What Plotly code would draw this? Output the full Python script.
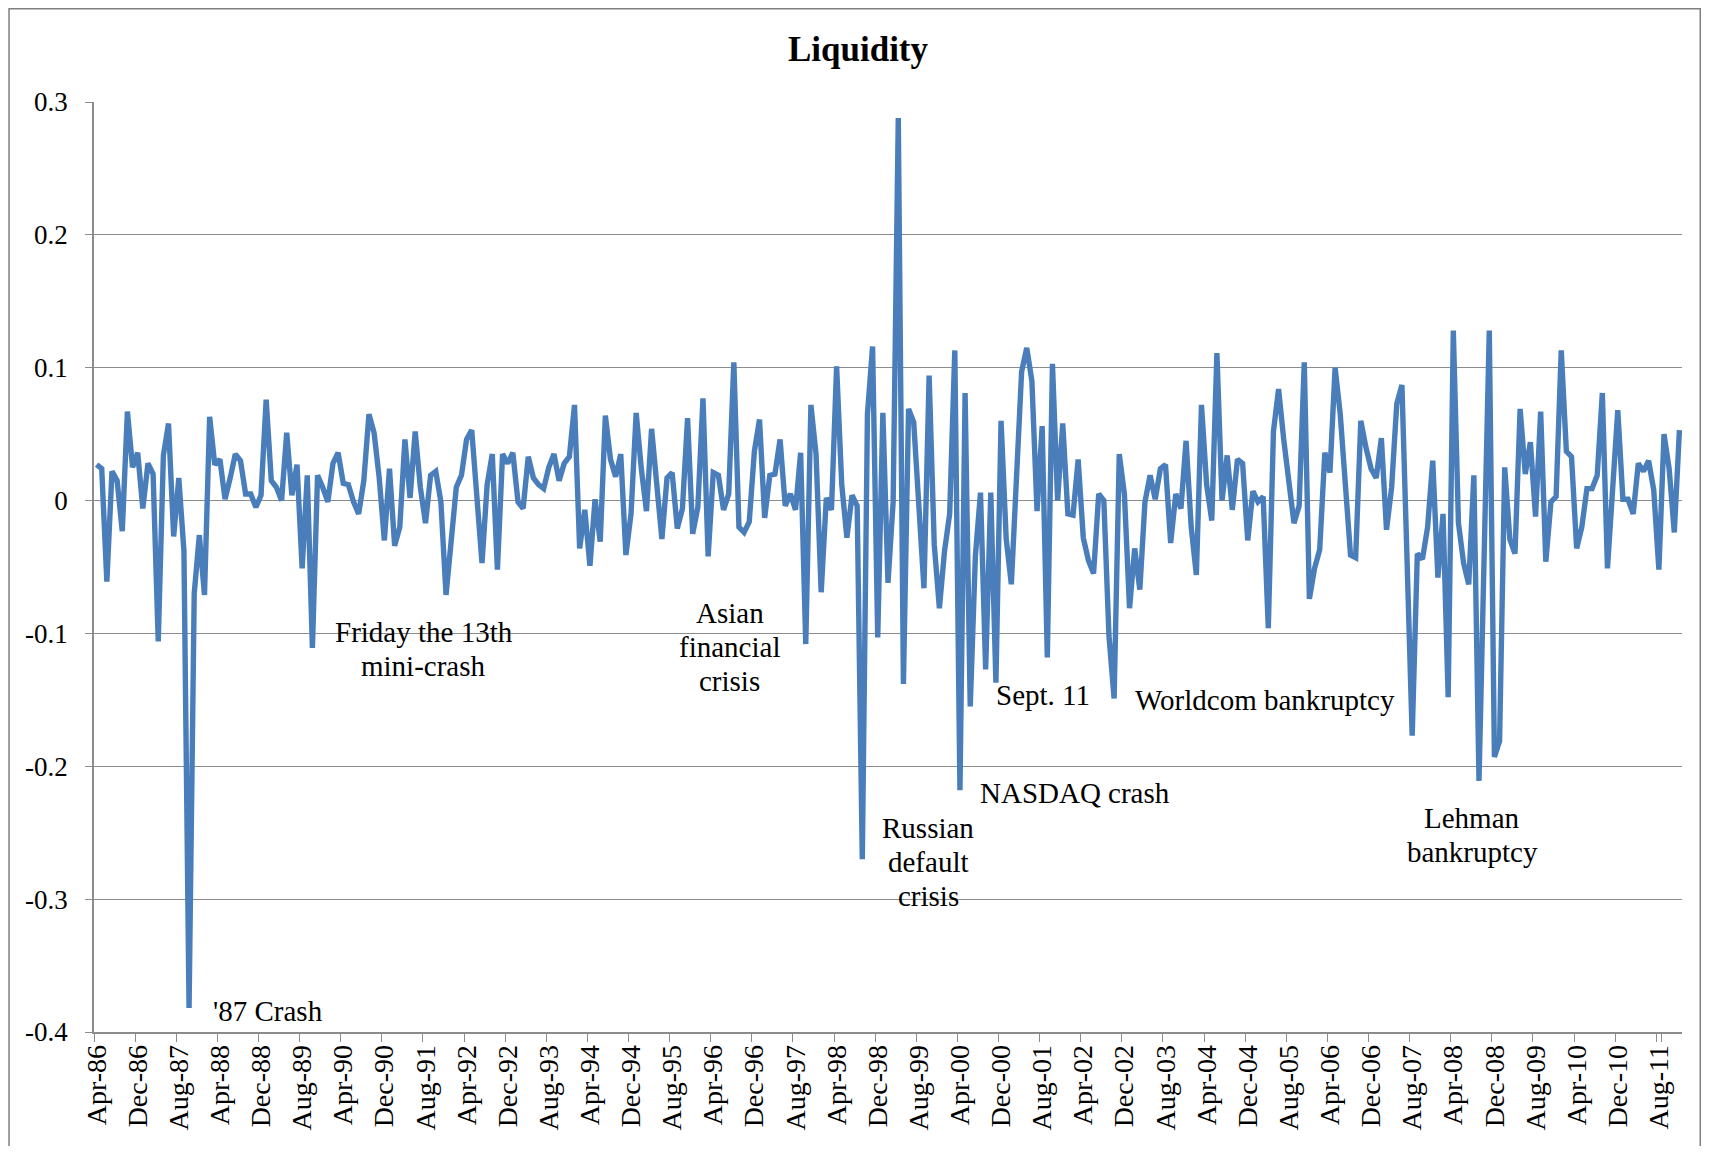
import plotly.graph_objects as go
import pandas as pd

# Monthly categories Apr-86 .. Dec-11
months = list(pd.date_range("1986-04-01", periods=309, freq="MS").strftime("%b-%y"))

liquidity = [
    0.027, 0.024, -0.061, 0.022, 0.015, -0.023, 0.067, 0.025, 0.036, -0.006,
    0.028, 0.020, -0.106, 0.034, 0.058, -0.027, 0.017, -0.038, -0.382, -0.070,
    -0.026, -0.071, 0.063, 0.027, 0.031, 0.001, 0.017, 0.035, 0.030, 0.005,
    0.005, -0.005, 0.004, 0.076, 0.015, 0.010, 0.000, 0.051, 0.004, 0.027,
    -0.051, 0.019, -0.111, 0.019, 0.010, -0.001, 0.028, 0.036, 0.013, 0.012,
    -0.001, -0.010, 0.015, 0.065, 0.051, 0.017, -0.030, 0.024, -0.034, -0.020,
    0.046, 0.002, 0.052, 0.010, -0.017, 0.019, 0.022, -0.001, -0.071, -0.025,
    0.010, 0.019, 0.046, 0.053, 0.000, -0.047, 0.012, 0.035, -0.052, 0.035,
    0.028, 0.036, -0.001, -0.006, 0.033, 0.017, 0.012, 0.009, 0.025, 0.035,
    0.015, 0.028, 0.033, 0.072, -0.036, -0.007, -0.049, 0.001, -0.031, 0.064,
    0.031, 0.018, 0.035, -0.041, -0.010, 0.066, 0.024, -0.008, 0.054, 0.008,
    -0.029, 0.017, 0.021, -0.021, -0.006, 0.062, -0.025, -0.005, 0.077, -0.042,
    0.021, 0.019, -0.007, 0.005, 0.104, -0.020, -0.024, -0.016, 0.037, 0.061,
    -0.013, 0.019, 0.020, 0.046, -0.004, 0.005, -0.007, 0.036, -0.108, 0.072,
    0.035, -0.069, 0.002, -0.007, 0.101, 0.012, -0.028, 0.004, -0.004, -0.270,
    0.065, 0.116, -0.103, 0.066, -0.062, -0.001, 0.288, -0.138, 0.069, 0.059,
    -0.010, -0.066, 0.094, -0.033, -0.081, -0.038, -0.010, 0.113, -0.218, 0.081,
    -0.155, -0.042, 0.006, -0.127, 0.006, -0.137, 0.060, -0.029, -0.063, 0.026,
    0.097, 0.115, 0.090, -0.008, 0.056, -0.118, 0.103, 0.000, 0.058, -0.010,
    -0.011, 0.031, -0.028, -0.045, -0.055, 0.005, 0.000, -0.102, -0.149, 0.035,
    0.005, -0.081, -0.036, -0.067, -0.001, 0.019, 0.001, 0.024, 0.027, -0.032,
    0.005, -0.006, 0.045, -0.020, -0.056, 0.072, 0.012, -0.015, 0.111, 0.000,
    0.034, -0.007, 0.031, 0.028, -0.030, 0.007, -0.001, 0.003, -0.096, 0.052,
    0.084, 0.046, 0.017, -0.017, -0.004, 0.104, -0.074, -0.051, -0.037, 0.036,
    0.021, 0.100, 0.065, 0.017, -0.041, -0.043, 0.060, 0.040, 0.024, 0.017,
    0.047, -0.022, 0.010, 0.073, 0.087, -0.045, -0.177, -0.040, -0.044, -0.020,
    0.030, -0.058, -0.010, -0.148, 0.128, -0.017, -0.047, -0.063, 0.019, -0.211,
    -0.030, 0.128, -0.193, -0.181, 0.025, -0.029, -0.040, 0.069, 0.020, 0.044,
    -0.012, 0.067, -0.046, -0.001, 0.003, 0.113, 0.037, 0.033, -0.036, -0.020,
    0.009, 0.009, 0.019, 0.081, -0.051, 0.005, 0.068, 0.001, 0.001, -0.010,
    0.028, 0.022, 0.030, 0.008, -0.052, 0.050, 0.024, -0.024, 0.053,
]

tick_labels = months[::8]
y_ticks = [0.3, 0.2, 0.1, 0, -0.1, -0.2, -0.3, -0.4]
y_ticktext = ["0.3", "0.2", "0.1", "0", "-0.1", "-0.2", "-0.3", "-0.4"]

# Event annotations: (lines of text, x position in category index, y value of block centre)
event_lines = [["'87 Crash"], ["Friday the 13th", "mini-crash"], ["Asian", "financial", "crisis"],
               ["Russian", "default", "crisis"], ["NASDAQ crash"], ["Sept. 11"],
               ["Worldcom bankruptcy"], ["Lehman", "bankruptcy"]]
event_x = [33.4, 63.7, 123.2, 161.8, 190.3, 184.1, 227.4, 267.7]
event_y = [-0.384, -0.112, -0.110, -0.272, -0.220, -0.1467, -0.150, -0.252]

FONT = "Liberation Serif, Times New Roman, serif"
GRID = "#8c8c8c"
LINE_GAP = 34

fig = go.Figure()
fig.add_trace(go.Scatter(
    x=months, y=liquidity, mode="lines",
    line=dict(color="#4a7ebb", width=5.4),
    showlegend=False, hoverinfo="x+y",
))

for lines, ex, ey in zip(event_lines, event_x, event_y):
    n = len(lines)
    for k, t in enumerate(lines):
        fig.add_annotation(x=ex, y=ey, xref="x", yref="y", text=t, showarrow=False,
                           yshift=-(k - (n - 1) / 2) * LINE_GAP,
                           font=dict(family=FONT, size=29, color="black"),
                           xanchor="center", yanchor="middle", align="center")

# outer chart frame (left, top, right sides; bottom runs off the page)
fig.add_shape(type="path", xref="paper", yref="paper",
              path="M -0.0535,-0.125 L -0.0535,1.1003 L 1.0115,1.1003 L 1.0115,-0.125",
              line=dict(color="#7f7f7f", width=1.5), layer="below")

fig.update_layout(
    width=1695, height=1138,
    margin=dict(l=86, r=21, t=94, b=114, autoexpand=False),
    paper_bgcolor="white", plot_bgcolor="white",
    title=dict(text="<b>Liquidity</b>", x=(858 - 8) / 1695, xref="container", xanchor="center",
               y=1 - 41 / 1138, yref="container", yanchor="middle",
               font=dict(family=FONT, size=35, color="black")),
    font=dict(family=FONT, color="black"),
    xaxis=dict(
        type="category", categoryorder="array", categoryarray=months,
        range=[-0.5, len(months) - 0.5],
        tickmode="array", tickvals=tick_labels, ticktext=tick_labels,
        tickson="boundaries", ticks="outside", ticklen=8, tickcolor=GRID, tickwidth=1.3,
        tickangle=-90, tickfont=dict(family=FONT, size=28, color="black"),
        showgrid=False, showline=True, linecolor=GRID, linewidth=1.5,
        zeroline=False, automargin=False,
    ),
    yaxis=dict(
        range=[-0.4, 0.3], tickmode="array", tickvals=y_ticks, ticktext=y_ticktext,
        ticks="outside", ticklen=7, tickcolor=GRID, tickwidth=1.3,
        tickfont=dict(family=FONT, size=27, color="black"),
        ticklabelstandoff=12,
        showgrid=True, gridcolor=GRID, gridwidth=1.3,
        showline=True, linecolor=GRID, linewidth=1.5,
        zeroline=False, automargin=False,
    ),
)

fig.write_html("out.html")
